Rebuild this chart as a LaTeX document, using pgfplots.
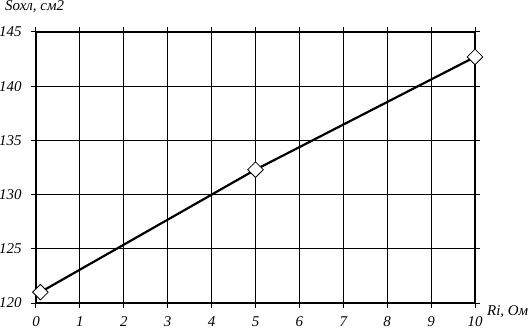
\documentclass[border=0pt]{standalone}
\usepackage{fontspec}
\setmainfont{Liberation Serif}
\usepackage{pgfplots}
\pgfplotsset{compat=1.18}
\begin{document}
\begin{tikzpicture}[x=1bp,y=1bp]
\useasboundingbox (-36bp,-27bp) rectangle (494bp,303bp);
\begin{axis}[
  at={(0,0)}, anchor=south west,
  scale only axis, width=439bp, height=271bp,
  xmin=0, xmax=10, ymin=120, ymax=145,
  xtick={0,1,...,10}, ytick={120,125,...,145},
  grid=major,
  major grid style={black, line width=1.2bp},
  axis line style={black, line width=1.2bp},
  tick align=outside,
  major tick length=5bp,
  tick style={black, line width=1bp},
  /pgf/number format/assume math mode=true,
  ticklabel style={font=\fontsize{15}{17}\selectfont\itshape},
  xticklabel style={yshift=-5.5bp},
  yticklabel style={xshift=-6bp},
  clip=false,
]
\addplot[black, line width=2.2bp, mark=square*, mark size=5.5bp,
  mark options={fill=white, line width=0.8bp, rotate=45}]
  coordinates {(0.1,121.0) (5,132.3) (10,142.7)};
\end{axis}
\node[anchor=west, font=\fontsize{15}{17}\selectfont\itshape, inner sep=0pt] at (451bp,-9bp) {Ri, Ом};
\node[anchor=base west, font=\fontsize{15}{17}\selectfont\itshape, inner sep=0pt] at (-31bp,292bp) {Sохл, см2};
\end{tikzpicture}
\end{document}
